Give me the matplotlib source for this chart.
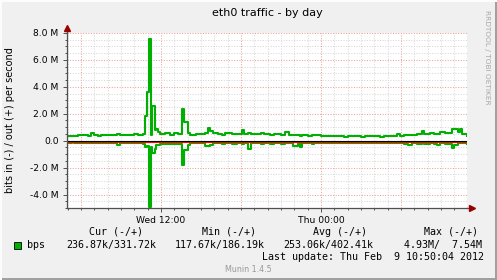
import matplotlib
matplotlib.use("Agg")
import matplotlib.pyplot as plt
import matplotlib.transforms as mtransforms
from matplotlib.patches import Rectangle

# hours since Wed 00:00, traffic in Mbit/s (in is drawn below zero)
hours = [4.95, 5.3, 5.5, 5.8, 6.0, 6.5, 6.75, 6.95, 7.3, 7.5, 8.0, 8.3, 8.5, 8.7,
         8.95, 9.5, 9.8, 10.0, 10.3, 10.65, 10.8, 10.95, 11.1, 11.25, 11.36, 11.55,
         11.62, 11.8, 11.92, 12.3, 12.7, 13.0, 13.3, 13.58, 13.72, 14.02, 14.18,
         14.6, 15.0, 15.3, 15.52, 15.68, 15.9, 16.3, 16.6, 16.8, 17.3, 17.7,
         18.08, 18.23, 18.53, 18.75, 19.2, 19.5, 19.7, 20.2, 20.5, 20.7, 21.0,
         21.3, 21.6, 21.9, 22.28, 22.43, 22.6, 23.0, 23.3, 23.5, 24.0, 24.4,
         24.7, 25.0, 25.3, 25.7, 26.0, 26.4, 26.7, 27.0, 27.3, 27.7, 28.0, 28.4,
         28.7, 29.0, 29.3, 29.7, 29.93, 30.2, 30.53, 30.83, 31.2, 31.58, 31.75,
         32.2, 32.5, 32.7, 32.93, 33.3, 33.6, 33.83, 33.98, 34.28, 34.43, 34.6,
         34.95]
bps_out = [0.37, 0.33, 0.35, 0.40, 0.40, 0.38, 0.57, 0.42, 0.38, 0.40, 0.45, 0.40, 0.42, 0.48,
           0.45, 0.43, 0.40, 0.50, 0.46, 0.52, 1.80, 3.65, 7.54, 0.40, 2.55, 0.80,
           0.90, 0.65, 0.50, 0.55, 0.45, 0.60, 0.50, 2.37, 1.40, 0.60, 0.45,
           0.50, 0.48, 0.55, 0.94, 0.72, 0.60, 0.50, 0.45, 0.55, 0.50, 0.52,
           0.77, 0.52, 0.55, 0.50, 0.48, 0.55, 0.50, 0.45, 0.52, 0.50, 0.46,
           0.65, 0.45, 0.42, 0.40, 0.38, 0.40, 0.38, 0.42, 0.40, 0.36, 0.32,
           0.33, 0.38, 0.35, 0.31, 0.32, 0.36, 0.34, 0.30, 0.32, 0.35, 0.33, 0.30,
           0.35, 0.32, 0.33, 0.50, 0.35, 0.40, 0.45, 0.45, 0.50, 0.70, 0.50,
           0.55, 0.48, 0.50, 0.65, 0.55, 0.60, 0.90, 0.90, 0.65, 0.85, 0.50,
           0.33]
bps_in = [0.15, 0.13, 0.15, 0.18, 0.17, 0.15, 0.18, 0.16, 0.14, 0.17, 0.15, 0.18, 0.20, 0.30,
          0.20, 0.17, 0.15, 0.18, 0.20, 0.22, 0.45, 0.40, 4.93, 0.50, 0.90, 0.60,
          0.30, 0.30, 0.25, 0.27, 0.25, 0.28, 0.25, 1.78, 0.67, 0.30, 0.20,
          0.18, 0.20, 0.40, 0.40, 0.35, 0.20, 0.18, 0.22, 0.20, 0.22, 0.18,
          0.25, 0.20, 0.60, 0.20, 0.18, 0.22, 0.20, 0.22, 0.18, 0.18, 0.22,
          0.20, 0.20, 0.40, 0.20, 0.45, 0.20, 0.18, 0.22, 0.20, 0.18, 0.15,
          0.17, 0.20, 0.18, 0.15, 0.17, 0.19, 0.20, 0.16, 0.17, 0.20, 0.18, 0.15,
          0.17, 0.19, 0.18, 0.17, 0.18, 0.22, 0.35, 0.20, 0.22, 0.20, 0.25,
          0.20, 0.24, 0.30, 0.20, 0.22, 0.25, 0.55, 0.30, 0.20, 0.20, 0.20,
          0.24]

x_ticks = [12, 24]
x_labels = ["Wed 12:00", "Thu 00:00"]
y_ticks = [-4, -2, 0, 2, 4, 6, 8]
y_labels = ["-4.0 M", "-2.0 M", "0.0", "2.0 M", "4.0 M", "6.0 M", "8.0 M"]

legend_head = ["Cur (-/+)", "Min (-/+)", "Avg (-/+)", "Max (-/+)"]
legend_vals = ["236.87k/331.72k", "117.67k/186.19k", "253.06k/402.41k", "  4.93M/  7.54M"]

W, H = 497, 280
GREEN = "#00B000"
MONO = "DejaVu Sans Mono"


def px(x, y):
    # pixel position from the top left corner -> figure fraction
    return x / W, 1 - y / H


fig = plt.figure(figsize=(W / 100, H / 100), dpi=100, facecolor="#F0F0F0")

# frame with light top/left and dark bottom/right edge
fig.add_artist(Rectangle((0, 0), 1, 2 / H, transform=fig.transFigure, color="#A0A0A0", lw=0))
fig.add_artist(Rectangle((1 - 2 / W, 0), 2 / W, 1, transform=fig.transFigure, color="#A0A0A0", lw=0))
fig.add_artist(Rectangle((0, 1 - 2 / H), 1, 2 / H, transform=fig.transFigure, color="#FCFCFC", lw=0))
fig.add_artist(Rectangle((0, 0), 2 / W, 1, transform=fig.transFigure, color="#FCFCFC", lw=0))

ax = fig.add_axes([67 / W, 72 / H, 400 / W, 175 / H])
ax.set_facecolor("white")
ax.set_xlim(4.95, 34.95)
ax.set_ylim(-5, 8)

# grid: minor every hour / 0.5 M, major every 6 hours / 2 M
for h in range(5, 35):
    major = h % 6 == 0
    ax.axvline(h, color="#F0A0A0" if major else "#D8D8D8", lw=0.75,
               dashes=(1, 1.5), zorder=1)
for i in range(-9, 17):
    v = i * 0.5
    major = i % 4 == 0
    ax.axhline(v, color="#F0A0A0" if major else "#D8D8D8", lw=0.75,
               dashes=(1, 1.5), zorder=1)

ax.step(hours, bps_out, where="post", color=GREEN, lw=1.5, zorder=3)
ax.step(hours, [-v for v in bps_in], where="post", color=GREEN, lw=1.5, zorder=3)

# zero rule: black with red just below it
below = mtransforms.offset_copy(ax.get_yaxis_transform(), fig=fig, y=-1.2, units="dots")
ax.plot([0, 1], [0, 0], transform=ax.get_yaxis_transform(), color="black", lw=0.8, zorder=4)
ax.plot([0, 1], [0, 0], transform=below, color="#FF0000", lw=0.8, zorder=4)

for s in ["top", "right"]:
    ax.spines[s].set_visible(False)
for s in ["left", "bottom"]:
    ax.spines[s].set_color("#505050")
    ax.spines[s].set_linewidth(0.9)
    ax.spines[s].set_zorder(5)

# axis extensions with arrows
ax.plot([0, 0], [1, 1.03], transform=ax.transAxes, color="#505050", lw=0.9, clip_on=False)
ax.plot([1, 1.01], [0, 0], transform=ax.transAxes, color="#505050", lw=0.9, clip_on=False)
ax.plot([0], [1.03], transform=ax.transAxes, marker="^", ms=4.5, color="#990000", clip_on=False)
ax.plot([1.012], [0], transform=ax.transAxes, marker=">", ms=4.5, color="#990000", clip_on=False)

ax.set_xticks(x_ticks)
ax.set_xticklabels(x_labels)
ax.set_yticks(y_ticks)
ax.set_yticklabels(y_labels)
ax.set_xticks(range(5, 35), minor=True)
ax.set_yticks([i * 0.5 for i in range(-10, 17)], minor=True)
ax.tick_params(which="both", direction="out", color="#505050", width=0.7)
ax.tick_params(which="major", length=3, labelsize=6.6, labelcolor="black")
ax.tick_params(which="minor", length=1.5)
ax.tick_params(axis="x", pad=3)
ax.tick_params(axis="y", pad=3)

fig.text(*px(267, 13), "eth0 traffic - by day", ha="center", va="center", fontsize=8)
fig.text(*px(10, 120), "bits in (-) / out (+) per second", rotation=90,
         ha="center", va="center", fontsize=7)
fig.text(*px(487, 57), "RRDTOOL / TOBI OETIKER", rotation=270,
         ha="center", va="center", fontsize=5.3, color="#A8A8A8")

head_x = [89.3, 201.7, 312.7, 423.7]
val_x = [66.7, 174.3, 283.7, 391.6]
for x, t in zip(head_x, legend_head):
    fig.text(*px(x, 232), t, ha="left", va="center", family=MONO, fontsize=7.2)
for x, t in zip(val_x, legend_vals):
    fig.text(*px(x, 245), t, ha="left", va="center", family=MONO, fontsize=7.2)

fig.add_artist(Rectangle(px(13.5, 248.5), 7 / W, 7 / H, transform=fig.transFigure,
                         facecolor=GREEN, edgecolor="black", lw=0.6))
fig.text(*px(26.7, 245), "bps", ha="left", va="center", family=MONO, fontsize=7.2)
fig.text(*px(484, 257), "Last update: Thu Feb  9 10:50:04 2012", ha="right",
         va="center", family=MONO, fontsize=7.2)
fig.text(*px(248.5, 269.5), "Munin 1.4.5", ha="center", va="center",
         fontsize=5.8, color="#999999")

fig.savefig("out.png", dpi=100, facecolor=fig.get_facecolor())
